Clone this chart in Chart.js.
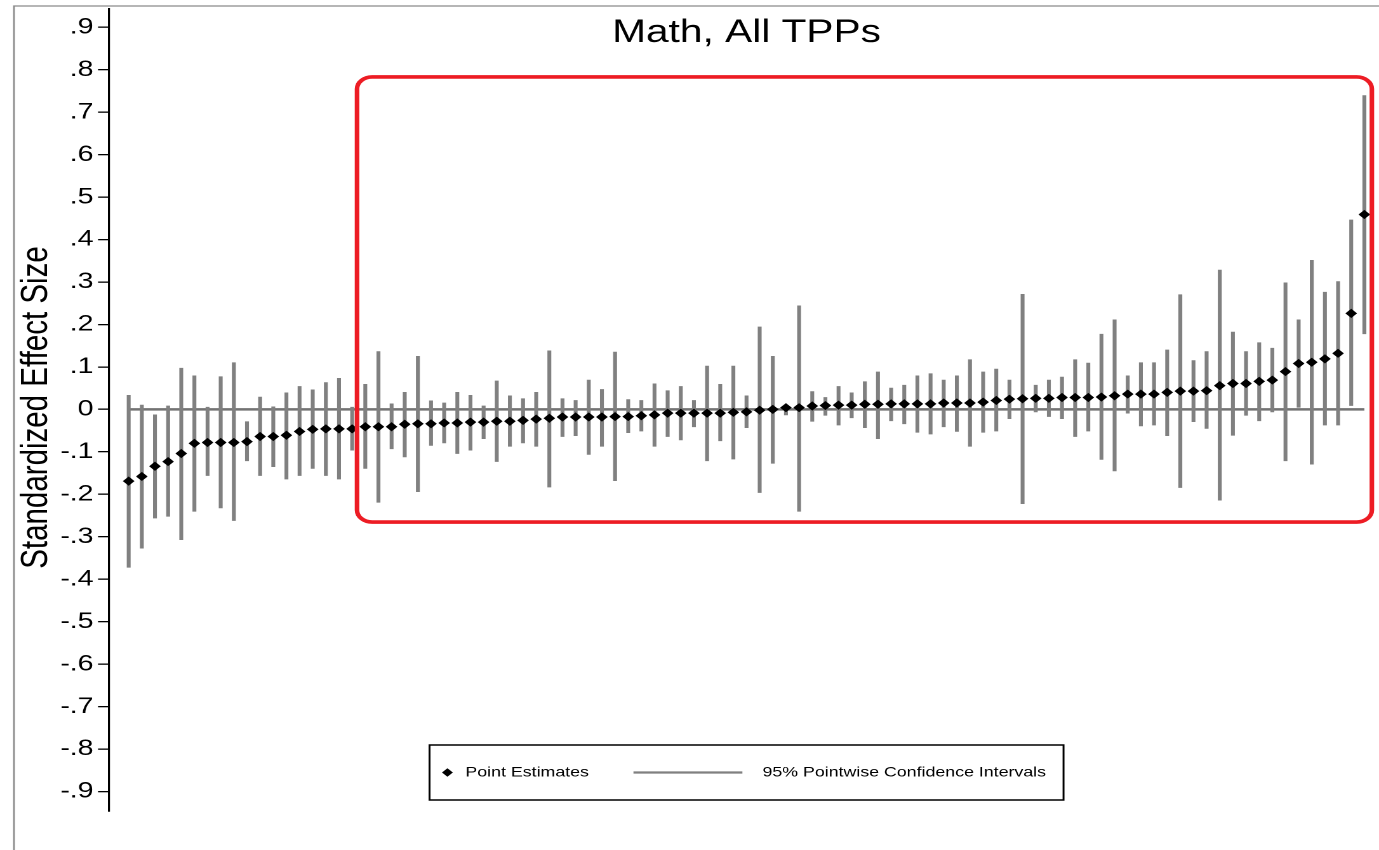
<!DOCTYPE html>
<html>
<head>
<meta charset="UTF-8">
<title>Math, All TPPs</title>
<script src="https://cdn.jsdelivr.net/npm/chart.js"></script>
<style>
  html, body { margin: 0; padding: 0; background: #fff; overflow: hidden; }
  /* the original figure is stretched horizontally, so draw narrow and stretch */
  #wrap { position: absolute; left: 0; top: 0; width: 1086px; height: 850px;
          transform: scaleX(1.2698); transform-origin: 0 0; }
</style>
</head>
<body>
<div id="wrap"><canvas id="chart"></canvas></div>
<script>
// point estimates, sorted, and their 95% confidence bounds
const estimates = [
  -0.169, -0.158, -0.134, -0.123, -0.104, -0.080, -0.078, -0.078, -0.078, -0.076,
  -0.064, -0.064, -0.061, -0.052, -0.047, -0.046, -0.046, -0.046, -0.041, -0.041,
  -0.041, -0.035, -0.034, -0.034, -0.032, -0.032, -0.030, -0.030, -0.028, -0.028,
  -0.026, -0.023, -0.021, -0.018, -0.018, -0.018, -0.018, -0.017, -0.017, -0.015,
  -0.013, -0.009, -0.009, -0.009, -0.009, -0.009, -0.007, -0.006, -0.002, 0.000,
  0.004, 0.004, 0.008, 0.009, 0.010, 0.010, 0.012, 0.012, 0.013, 0.013,
  0.013, 0.013, 0.015, 0.015, 0.015, 0.017, 0.021, 0.024, 0.025, 0.026,
  0.026, 0.028, 0.028, 0.028, 0.029, 0.032, 0.036, 0.036, 0.036, 0.040,
  0.043, 0.043, 0.044, 0.056, 0.061, 0.061, 0.066, 0.069, 0.089, 0.108,
  0.111, 0.119, 0.132, 0.226, 0.459
];
const ciHigh = [
  0.033, 0.010, -0.013, 0.008, 0.097, 0.079, 0.005, 0.077, 0.110, -0.029,
  0.029, 0.006, 0.039, 0.054, 0.046, 0.063, 0.073, 0.005, 0.059, 0.136,
  0.013, 0.040, 0.125, 0.020, 0.015, 0.040, 0.033, 0.008, 0.067, 0.032,
  0.025, 0.040, 0.138, 0.025, 0.021, 0.069, 0.047, 0.135, 0.023, 0.021,
  0.060, 0.044, 0.054, 0.021, 0.102, 0.059, 0.102, 0.032, 0.194, 0.125,
  0.010, 0.244, 0.042, 0.028, 0.054, 0.039, 0.065, 0.088, 0.050, 0.057,
  0.079, 0.084, 0.069, 0.079, 0.117, 0.088, 0.095, 0.069, 0.271, 0.057,
  0.069, 0.076, 0.117, 0.109, 0.177, 0.211, 0.079, 0.110, 0.110, 0.140,
  0.270, 0.115, 0.136, 0.328, 0.182, 0.136, 0.157, 0.144, 0.298, 0.211,
  0.351, 0.276, 0.301, 0.446, 0.739
];
const ciLow = [
  -0.372, -0.327, -0.256, -0.252, -0.307, -0.240, -0.156, -0.232, -0.262, -0.121,
  -0.156, -0.135, -0.164, -0.156, -0.139, -0.156, -0.164, -0.096, -0.139, -0.219,
  -0.093, -0.112, -0.194, -0.085, -0.079, -0.104, -0.096, -0.069, -0.123, -0.087,
  -0.079, -0.087, -0.183, -0.064, -0.062, -0.106, -0.087, -0.168, -0.055, -0.051,
  -0.087, -0.064, -0.072, -0.041, -0.121, -0.074, -0.117, -0.043, -0.196, -0.127,
  -0.013, -0.240, -0.028, -0.014, -0.037, -0.020, -0.043, -0.069, -0.027, -0.034,
  -0.054, -0.058, -0.041, -0.052, -0.087, -0.054, -0.051, -0.022, -0.222, -0.006,
  -0.017, -0.022, -0.064, -0.051, -0.118, -0.145, -0.009, -0.039, -0.037, -0.062,
  -0.184, -0.029, -0.045, -0.214, -0.061, -0.014, -0.027, -0.006, -0.121, 0.005,
  -0.129, -0.037, -0.037, 0.009, 0.178
];
const yTicks = [-0.9, -0.8, -0.7, -0.6, -0.5, -0.4, -0.3, -0.2, -0.1, 0,
                0.1, 0.2, 0.3, 0.4, 0.5, 0.6, 0.7, 0.8, 0.9];
const yTickLabels = ['-.9', '-.8', '-.7', '-.6', '-.5', '-.4', '-.3', '-.2', '-.1', '0',
                     '.1', '.2', '.3', '.4', '.5', '.6', '.7', '.8', '.9'];
const titleText = 'Math, All TPPs';
const yTitle = 'Standardized Effect Size';
const legendLabels = ['Point Estimates', '95% Pointwise Confidence Intervals'];

// axis ranges and the red highlight box, in data units
const xMin = -0.5, xMax = 95.67;
const yMin = -0.946, yMax = 0.943;
const box = { x0: 18.37, x1: 95.57, y0: -0.2655, y1: 0.783 };

const FONT = '"Liberation Sans", Arial, sans-serif';
const GRAY = '#808080';
const idx = estimates.map((_, i) => i + 1);

const decor = {
  id: 'decor',
  beforeDraw(chart) {
    const ctx = chart.ctx;
    ctx.save();
    ctx.fillStyle = '#fff';
    ctx.fillRect(0, 0, chart.width, chart.height);
    // outer figure frame (top and left edges only are visible)
    ctx.strokeStyle = '#8a8a8a';
    ctx.lineWidth = 1.3;
    ctx.beginPath();
    ctx.moveTo(11, chart.height);
    ctx.lineTo(11, 6);
    ctx.lineTo(chart.width, 6);
    ctx.stroke();
    ctx.restore();
  },
  afterDraw(chart) {
    const ctx = chart.ctx;
    const xs = chart.scales.x, ys = chart.scales.y;
    const midX = xs.getPixelForValue((idx[0] + idx[idx.length - 1]) / 2);
    ctx.save();
    ctx.fillStyle = '#000';

    // title
    ctx.font = '32px ' + FONT;
    ctx.textAlign = 'center';
    ctx.textBaseline = 'alphabetic';
    ctx.fillText(titleText, midX, 42);

    // y axis title
    ctx.save();
    ctx.translate(29, 407.5);
    ctx.rotate(-Math.PI / 2);
    ctx.font = '29.5px ' + FONT;
    ctx.textBaseline = 'middle';
    ctx.fillText(yTitle, 0, 0);
    ctx.restore();

    // red highlight box
    const bx0 = xs.getPixelForValue(box.x0), bx1 = xs.getPixelForValue(box.x1);
    const by0 = ys.getPixelForValue(box.y1), by1 = ys.getPixelForValue(box.y0);
    ctx.strokeStyle = '#ed1c24';
    ctx.lineWidth = 3.6;
    ctx.beginPath();
    ctx.roundRect(bx0, by0, bx1 - bx0, by1 - by0, 12);
    ctx.stroke();

    // legend
    const lw = 499.3, ly = 745, lh = 55;
    const lx = midX - lw / 2;
    ctx.fillStyle = '#fff';
    ctx.fillRect(lx, ly, lw, lh);
    ctx.strokeStyle = '#000';
    ctx.lineWidth = 1.5;
    ctx.strokeRect(lx, ly, lw, lh);
    const cy = ly + lh / 2;
    ctx.fillStyle = '#000';
    const dx = lx + 14.1, r = 4.3;
    ctx.beginPath();
    ctx.moveTo(dx, cy - r); ctx.lineTo(dx + r, cy);
    ctx.lineTo(dx, cy + r); ctx.lineTo(dx - r, cy);
    ctx.closePath();
    ctx.fill();
    ctx.font = '14px ' + FONT;
    ctx.textAlign = 'left';
    ctx.textBaseline = 'middle';
    ctx.fillText(legendLabels[0], lx + 28.3, cy);
    ctx.strokeStyle = GRAY;
    ctx.lineWidth = 2.2;
    ctx.beginPath();
    ctx.moveTo(lx + 160.6, cy);
    ctx.lineTo(lx + 246.4, cy);
    ctx.stroke();
    ctx.fillText(legendLabels[1], lx + 262.2, cy);
    ctx.restore();
  }
};

new Chart(document.getElementById('chart'), {
  type: 'bar',
  data: {
    datasets: [
      {
        type: 'scatter',
        label: legendLabels[0],
        data: idx.map((x, i) => ({ x: x, y: estimates[i] })),
        pointStyle: 'rectRot',
        pointRadius: 4.6,
        backgroundColor: '#000',
        borderWidth: 0,
        order: 0
      },
      {
        type: 'bar',
        label: legendLabels[1],
        data: idx.map((x, i) => ({ x: x, y: [ciLow[i], ciHigh[i]] })),
        backgroundColor: GRAY,
        barThickness: 2.4,
        order: 1
      },
      {
        type: 'line',
        label: 'zero',
        data: [{ x: idx[0], y: 0 }, { x: idx[idx.length - 1], y: 0 }],
        borderColor: '#737373',
        borderWidth: 2.6,
        pointRadius: 0,
        order: 2
      }
    ]
  },
  options: {
    responsive: true,
    maintainAspectRatio: false,
    devicePixelRatio: 2,
    animation: false,
    layout: { padding: { top: 9, bottom: 39, left: 0, right: 0 } },
    plugins: {
      legend: { display: false },
      title: { display: false },
      tooltip: { enabled: false }
    },
    scales: {
      x: { type: 'linear', min: xMin, max: xMax, offset: false, display: false },
      y: {
        type: 'linear',
        min: yMin,
        max: yMax,
        afterBuildTicks: s => { s.ticks = yTicks.map(v => ({ value: v })); },
        afterFit: s => { s.width = 85.8; s.paddingTop = 0; s.paddingBottom = 0; },
        ticks: {
          autoSkip: false,
          callback: (v, i) => yTickLabels[i],
          font: { family: FONT, size: 22.5 },
          color: '#000',
          padding: 3.5
        },
        grid: { drawOnChartArea: false, drawTicks: true, tickLength: 8.6, color: '#000', lineWidth: 1.3 },
        border: { display: true, color: '#000', width: 1.6 }
      }
    }
  },
  plugins: [decor]
});
</script>
</body>
</html>
